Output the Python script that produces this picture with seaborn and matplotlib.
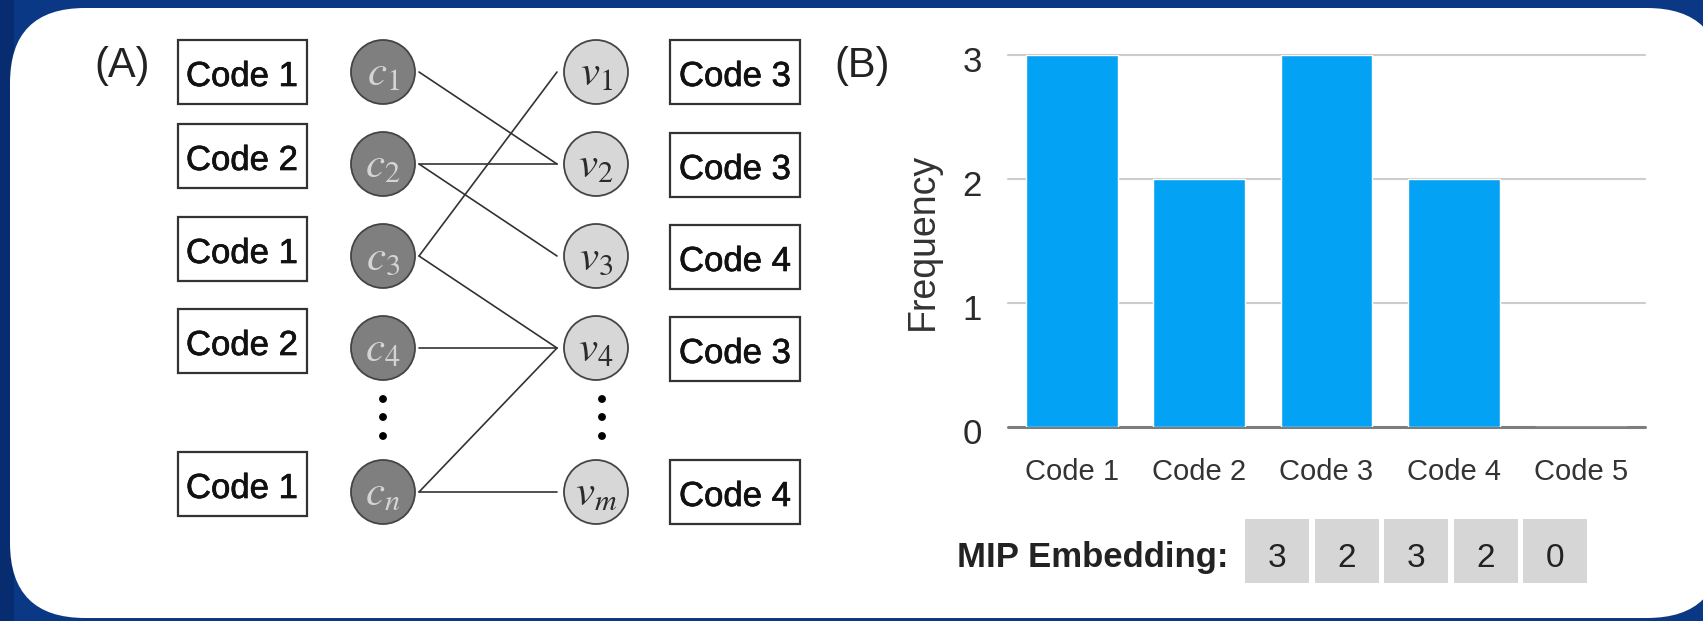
import matplotlib
matplotlib.use("Agg")
import matplotlib.pyplot as plt
import matplotlib.patheffects as pe
import matplotlib.transforms as mtransforms
import seaborn as sns
import pandas as pd
from matplotlib.patches import FancyBboxPatch, Rectangle

# ---------------- data ----------------
code_names = ["Code 1", "Code 2", "Code 3", "Code 4", "Code 5"]
frequency = [3, 2, 3, 2, 0]

check_codes = ["Code 1", "Code 2", "Code 1", "Code 2", "Code 1"]
variable_codes = ["Code 3", "Code 3", "Code 4", "Code 3", "Code 4"]
check_labels = [r"$c_1$", r"$c_2$", r"$c_3$", r"$c_4$", r"$c_n$"]
variable_labels = [r"$v_1$", r"$v_2$", r"$v_3$", r"$v_4$", r"$v_m$"]
# (check node index, variable node index)
edges = [(0, 1), (1, 1), (1, 2), (2, 0), (2, 3), (3, 3), (4, 3), (4, 4)]

# ---------------- style ----------------
sns.set_style("white")
plt.rcParams["font.family"] = ["Liberation Sans", "DejaVu Sans"]
plt.rcParams["mathtext.fontset"] = "stix"

W, H = 1703, 621
fig = plt.figure(figsize=(W / 100, H / 100), dpi=100)
fig.patch.set_facecolor("#0b3885")

# full-figure canvas in pixel units for the diagram and decorations
canvas = fig.add_axes([0, 0, 1, 1])
canvas.patch.set_alpha(0)

# darker strip along the left border
canvas.add_patch(Rectangle((0, 0), 14, H, fc="#082c70", ec="none", zorder=0))

# white rounded card
canvas.add_patch(FancyBboxPatch((10, 8), 1712, 610,
                                boxstyle="round,pad=0,rounding_size=75",
                                fc="white", ec="none", zorder=0.5))

heavy = [pe.withStroke(linewidth=0.5, foreground="#111")]

# ---------------- panel A: bipartite graph ----------------
row_y = [72, 164, 256, 348, 492]
left_box_y = [72, 156, 249, 341, 484]
right_box_y = [72, 165, 257, 349, 492]
c_x, v_x, node_r = 383, 596, 32

canvas.text(122, 66, "(A)", fontsize=30, ha="center", va="center", color="#222")

for y, code in zip(left_box_y, check_codes):
    canvas.add_patch(Rectangle((178, y - 32), 129, 64, fill=False,
                               ec="#333", lw=1.6, zorder=2))
    canvas.text(242, y + 14, code, fontsize=25, ha="center", va="baseline",
                color="#111", zorder=3, path_effects=heavy)

for y, code in zip(right_box_y, variable_codes):
    canvas.add_patch(Rectangle((670, y - 32), 130, 64, fill=False,
                               ec="#333", lw=1.6, zorder=2))
    canvas.text(735, y + 14, code, fontsize=25, ha="center", va="baseline",
                color="#111", zorder=3, path_effects=heavy)

for i, j in edges:
    canvas.plot([c_x + node_r + 4, v_x - node_r - 7], [row_y[i], row_y[j]],
                color="#333", lw=1.2, zorder=2, solid_capstyle="round")

nodes = pd.DataFrame({
    "x": [c_x] * len(row_y) + [v_x] * len(row_y),
    "y": row_y + row_y,
    "kind": ["check"] * len(row_y) + ["variable"] * len(row_y),
})
sns.scatterplot(data=nodes, x="x", y="y", hue="kind",
                palette={"check": "#7f7f7f", "variable": "#d7d7d7"},
                s=(2 * node_r * 0.72) ** 2, edgecolor="#444", linewidth=1.3,
                legend=False, ax=canvas, zorder=4)

for y, lab in zip(row_y, check_labels):
    canvas.text(c_x, y + 2, lab, fontsize=31, ha="center", va="center",
                color="#d4d4d4", zorder=5)
for y, lab in zip(row_y, variable_labels):
    canvas.text(v_x, y + 2, lab, fontsize=31, ha="center", va="center",
                color="#2b2b2b", zorder=5)

# vertical ellipsis between the 4th and last rows
dots = pd.DataFrame({
    "x": [c_x] * 3 + [v_x + 6] * 3,
    "y": [row_y[3] + d for d in (51, 69, 88)] * 2,
})
sns.scatterplot(data=dots, x="x", y="y", color="black", s=32,
                edgecolor="none", legend=False, ax=canvas, zorder=4)

canvas.set_xlim(0, W)
canvas.set_ylim(H, 0)
canvas.axis("off")

# ---------------- panel B: frequency histogram ----------------
canvas.text(862, 66, "(B)", fontsize=30, ha="center", va="center", color="#222")

axB = fig.add_axes([1008 / W, 1 - 427 / H, 637 / W, 372 / H])
sns.barplot(x=code_names, y=frequency, color="#04a2f5", saturation=1,
            width=0.72, ax=axB, zorder=3)
axB.set_xlim(-0.5, 4.5)
axB.set_ylim(0, 3)
axB.set_yticks([0, 1, 2, 3])
for t in [1, 2, 3]:
    axB.axhline(t, color="#cccccc", lw=1.5, zorder=1, clip_on=False)
axB.axhline(0, color="#7d7d7d", lw=2.2, zorder=2, clip_on=False)
sns.despine(ax=axB, left=True, bottom=True)
axB.patch.set_alpha(0)
axB.tick_params(axis="y", length=0, pad=19, labelsize=25, labelcolor="#2a2a2a")
axB.tick_params(axis="x", length=0, pad=22, labelsize=21, labelcolor="#333")
shift = mtransforms.ScaledTranslation(0, -4 / 100, fig.dpi_scale_trans)
for lab in axB.get_yticklabels():
    lab.set_transform(lab.get_transform() + shift)
axB.set_xlabel("")
axB.set_ylabel("Frequency", fontsize=27, color="#333")
axB.yaxis.set_label_coords(-0.105, 0.5)

# embedding vector under the histogram
canvas.text(957, 567, "MIP Embedding:", fontsize=25, fontweight="bold",
            ha="left", va="baseline", color="#222")
for k, val in enumerate(frequency):
    x0 = 1245 + k * 69.5
    canvas.add_patch(Rectangle((x0, 519), 64, 64, fc="#d6d6d6", ec="none", zorder=2))
    canvas.text(x0 + 32, 567, str(val), fontsize=24, ha="center", va="baseline",
                color="#222", zorder=3)

fig.savefig("out.png", dpi=100, facecolor=fig.get_facecolor())
